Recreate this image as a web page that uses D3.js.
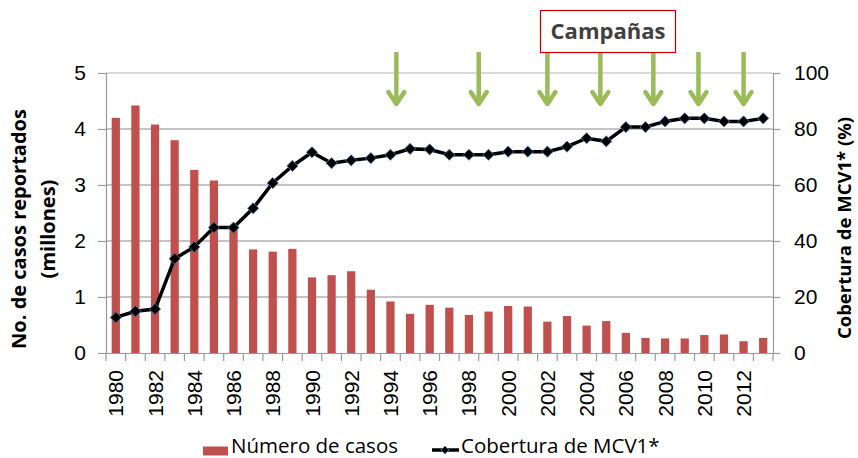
<!DOCTYPE html>
<html>
<head>
<meta charset="utf-8">
<script src="https://cdn.jsdelivr.net/npm/d3@7"></script>
<style>
  body { margin: 0; background: #fff; }
  svg { font-family: "Open Sans", "Noto Sans", sans-serif; }
</style>
</head>
<body>
<div id="chart"></div>
<script>
// data
var years = d3.range(1980, 2014);
var casos = [4.20, 4.42, 4.08, 3.80, 3.27, 3.08, 2.25, 1.85, 1.81, 1.86,
             1.35, 1.39, 1.46, 1.13, 0.92, 0.70, 0.86, 0.81, 0.68, 0.74,
             0.84, 0.83, 0.56, 0.66, 0.49, 0.57, 0.36, 0.27, 0.26, 0.26,
             0.32, 0.33, 0.21, 0.27];
var cobertura = [12.7, 14.9, 15.7, 33.7, 37.9, 44.8, 44.8, 51.7, 60.7, 66.8,
                 71.7, 67.8, 68.8, 69.6, 70.8, 72.9, 72.7, 70.8, 70.8, 70.8,
                 71.9, 71.9, 71.9, 73.7, 76.7, 75.6, 80.7, 80.7, 82.7, 83.8,
                 83.8, 82.7, 82.7, 83.8];
var campanas = [1994.3, 1998.5, 2002.0, 2004.7, 2007.4, 2009.7, 2012.0];
var leftTicks = [0, 1, 2, 3, 4, 5];
var rightTicks = [0, 20, 40, 60, 80, 100];

var margin = {top: 73, right: 85, bottom: 105, left: 106},
    width = 858 - margin.left - margin.right,
    height = 458 - margin.top - margin.bottom;

var svg = d3.select("#chart").append("svg")
    .attr("width", 858)
    .attr("height", 458);

var g = svg.append("g")
    .attr("transform", "translate(" + margin.left + "," + margin.top + ")");

var x = d3.scaleBand()
    .domain(years)
    .range([0, width]);
var step = x.step();

var y0 = d3.scaleLinear().domain([0, 5]).range([height, 0]);
var y1 = d3.scaleLinear().domain([0, 100]).range([height, 0]);

// gridlines
g.selectAll(".grid").data(leftTicks.slice(1)).enter()
  .append("line")
    .attr("x1", 0).attr("x2", width)
    .attr("y1", function(d) { return y0(d); })
    .attr("y2", function(d) { return y0(d); })
    .attr("stroke", function(d) { return d == 5 ? "#b5b5b5" : "#8a8a8a"; })
    .attr("stroke-width", 1.2);

// left axis
var yAxisLeft = d3.axisLeft(y0).tickValues(leftTicks).tickFormat(d3.format("d"))
    .tickSize(8).tickPadding(12);
var gl = g.append("g").call(yAxisLeft);
gl.selectAll("text").style("font-size", "21px").attr("fill", "#000");

// right axis
var yAxisRight = d3.axisRight(y1).tickValues(rightTicks).tickSize(7).tickPadding(14);
var gr = g.append("g").attr("transform", "translate(" + width + ",0)").call(yAxisRight);
gr.selectAll("text").style("font-size", "21px").attr("fill", "#000");

[gl, gr].forEach(function(a) {
  a.select(".domain").attr("stroke", "#9a9a9a").attr("stroke-width", 1.2);
  a.selectAll(".tick line").attr("stroke", "#9a9a9a").attr("stroke-width", 1.2);
});

// bars
var bw = step * 0.42;
g.selectAll(".bar").data(years).enter()
  .append("rect")
    .attr("class", "bar")
    .attr("x", function(d) { return x(d) + (step - bw) / 2; })
    .attr("width", bw)
    .attr("y", function(d, i) { return y0(casos[i]); })
    .attr("height", function(d, i) { return height - y0(casos[i]); })
    .attr("fill", "#c0504d");

// x axis
var xAxis = d3.axisBottom(x)
    .tickValues(years.filter(function(d) { return d % 2 == 0; }))
    .tickSize(0);
var gx = g.append("g").attr("transform", "translate(0," + height + ")").call(xAxis);
gx.select(".domain").attr("stroke", "#9a9a9a").attr("stroke-width", 1.2);
gx.selectAll("text")
    .style("font-size", "21px")
    .attr("fill", "#000")
    .attr("y", 0).attr("x", 0)
    .attr("dy", "0.36em")
    .attr("text-anchor", "end")
    .attr("transform", "translate(0,17) rotate(-90)");
gx.selectAll(".bound").data(years.concat([2014])).enter()
  .append("line")
    .attr("x1", function(d, i) { return i * step; })
    .attr("x2", function(d, i) { return i * step; })
    .attr("y1", 0).attr("y2", 8)
    .attr("stroke", "#9a9a9a").attr("stroke-width", 1.2);

// coverage line
var line = d3.line()
    .x(function(d, i) { return x(years[i]) + step / 2; })
    .y(function(d) { return y1(d); });
g.append("path")
    .datum(cobertura)
    .attr("d", line)
    .attr("fill", "none")
    .attr("stroke", "#000")
    .attr("stroke-width", 3.5);

var diamond = d3.symbol().type(d3.symbolDiamond2).size(80);
g.selectAll(".pt").data(cobertura).enter()
  .append("path")
    .attr("d", diamond)
    .attr("transform", function(d, i) {
      return "translate(" + (x(years[i]) + step / 2) + "," + y1(d) + ")";
    })
    .attr("fill", "#000")
    .attr("stroke", "#4f81bd")
    .attr("stroke-width", 0.8);

// axis titles
svg.append("text")
    .attr("transform", "translate(26,229) rotate(-90)")
    .attr("text-anchor", "middle")
    .style("font-size", "20px").style("font-weight", "bold")
    .text("No. de casos reportados");
svg.append("text")
    .attr("transform", "translate(55,229) rotate(-90)")
    .attr("text-anchor", "middle")
    .style("font-size", "20px").style("font-weight", "bold")
    .text("(millones)");
svg.append("text")
    .attr("transform", "translate(851,228) rotate(-90)")
    .attr("text-anchor", "middle")
    .style("font-size", "18.5px").style("font-weight", "bold")
    .text("Cobertura de MCV1* (%)");

// campaign arrows
var cx = function(d) {
  var yr = Math.floor(d);
  return margin.left + x(yr) + step / 2 + (d - yr) * step;
};
var arrows = svg.selectAll(".arrow").data(campanas).enter()
  .append("g").attr("class", "arrow")
    .attr("transform", function(d) { return "translate(" + cx(d) + ",52)"; });
arrows.append("line")
    .attr("x1", 0).attr("x2", 0).attr("y1", 0).attr("y2", 52)
    .attr("stroke", "#9bbb59").attr("stroke-width", 4.5);
arrows.append("path")
    .attr("d", "M-8,40 L0,52 L8,40")
    .attr("fill", "none")
    .attr("stroke", "#9bbb59").attr("stroke-width", 4.5)
    .attr("stroke-linecap", "round").attr("stroke-linejoin", "round");

svg.append("rect")
    .attr("x", 540.5).attr("y", 10.5)
    .attr("width", 135).attr("height", 42)
    .attr("fill", "#fff")
    .attr("stroke", "#c00000").attr("stroke-width", 1.2);
svg.append("text")
    .attr("x", 608).attr("y", 39)
    .attr("text-anchor", "middle")
    .attr("fill", "#404040")
    .style("font-size", "22px").style("font-weight", "bold")
    .text("Campañas");

// legend
var lg = svg.append("g").attr("transform", "translate(0,450)");
lg.append("rect")
    .attr("x", 203).attr("y", -3.5).attr("width", 25).attr("height", 9)
    .attr("fill", "#c0504d");
lg.append("text")
    .attr("x", 231).attr("y", 3)
    .style("font-size", "20.5px")
    .text("Número de casos");
lg.append("line")
    .attr("x1", 432).attr("x2", 459).attr("y1", 0).attr("y2", 0)
    .attr("stroke", "#000").attr("stroke-width", 3.5);
lg.append("path")
    .attr("d", d3.symbol().type(d3.symbolDiamond2).size(40))
    .attr("transform", "translate(445,0)")
    .attr("fill", "#000").attr("stroke", "#4f81bd").attr("stroke-width", 0.8);
lg.append("text")
    .attr("x", 461).attr("y", 3)
    .style("font-size", "20.5px")
    .text("Cobertura de MCV1*");
</script>
</body>
</html>
